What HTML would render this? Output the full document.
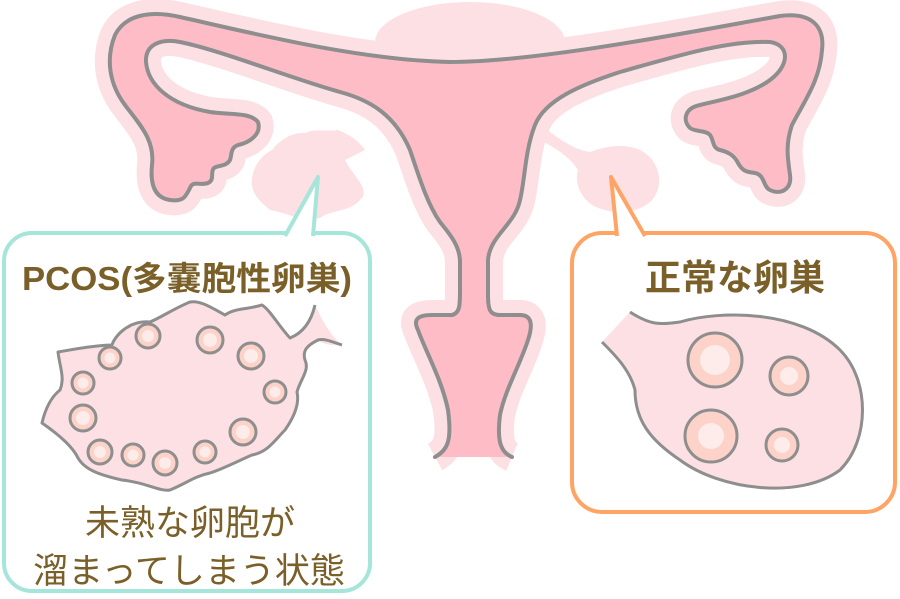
<!DOCTYPE html>
<html><head><meta charset="utf-8"><style>
html,body{margin:0;padding:0;background:#fff;}
svg{display:block;}
text{font-family:"Liberation Sans","Noto Sans CJK JP",sans-serif;fill:#7a5f28;}
</style></head><body>
<svg width="900" height="599" viewBox="0 0 900 599" xmlns="http://www.w3.org/2000/svg">
<ellipse cx="470" cy="42" rx="95" ry="40" fill="#fde0e4"/>
<path d="M435,457 C448,450 452,440 448,410 C442,380 425,350 418,330 C412,318 420,315 432,315 L452,315 C460,313 460,305 460,290 L460,262 C460,245 448,232 440,222 C428,205 420,180 410,150 C395,115 370,100 340,92 C290,78 220,50 180,42 C160,38 145,45 146,62 C148,85 170,105 210,112 C230,115 250,112 258,122 C262,135 248,143 238,145 C230,148 232,155 230,160 C226,167 218,165 214,168 C210,172 215,180 208,183 C200,186 193,180 190,188 C186,195 185,202 170,200 C155,198 150,185 152,165 C155,140 140,125 125,105 C110,85 105,60 115,35 C125,15 150,10 180,17 C260,35 360,60 450,62 C540,62 700,30 780,16 C810,12 825,25 822,50 C820,80 805,100 792,125 C785,145 788,160 790,175 C792,190 780,195 770,190 C763,187 765,175 755,173 C745,172 742,170 738,163 C734,155 728,152 720,150 C712,148 714,140 710,135 C706,130 695,132 690,128 C682,120 685,108 700,105 C720,100 750,95 770,80 C790,65 790,45 770,42 C730,40 680,55 620,72 C580,85 545,100 535,125 C525,150 525,180 520,200 C515,225 490,235 488,260 L488,295 C488,310 490,315 500,315 L520,315 C532,315 533,325 528,340 C520,365 505,390 500,415 C497,440 500,452 512,457" fill="#fde0e4" stroke="#fde0e4" stroke-width="30" stroke-linejoin="round"/>
<path d="M365,150 L345,160 C352,175 372,190 360,200 C350,212 330,210 320,218 C300,222 285,212 270,210 C258,200 250,192 252,178 C254,165 262,155 272,150 C280,140 292,132 305,133 C315,128 325,132 338,130 C350,135 358,140 365,150 Z" fill="#fde0e4"/>
<path d="M545,128 C560,140 575,150 590,152 C605,146 625,143 640,150 C660,160 665,185 652,200 C638,215 610,215 592,205 C578,195 575,180 578,170 C572,160 560,150 540,140 Z" fill="#fde0e4"/>
<path d="M435,457 C448,450 452,440 448,410 C442,380 425,350 418,330 C412,318 420,315 432,315 L452,315 C460,313 460,305 460,290 L460,262 C460,245 448,232 440,222 C428,205 420,180 410,150 C395,115 370,100 340,92 C290,78 220,50 180,42 C160,38 145,45 146,62 C148,85 170,105 210,112 C230,115 250,112 258,122 C262,135 248,143 238,145 C230,148 232,155 230,160 C226,167 218,165 214,168 C210,172 215,180 208,183 C200,186 193,180 190,188 C186,195 185,202 170,200 C155,198 150,185 152,165 C155,140 140,125 125,105 C110,85 105,60 115,35 C125,15 150,10 180,17 C260,35 360,60 450,62 C540,62 700,30 780,16 C810,12 825,25 822,50 C820,80 805,100 792,125 C785,145 788,160 790,175 C792,190 780,195 770,190 C763,187 765,175 755,173 C745,172 742,170 738,163 C734,155 728,152 720,150 C712,148 714,140 710,135 C706,130 695,132 690,128 C682,120 685,108 700,105 C720,100 750,95 770,80 C790,65 790,45 770,42 C730,40 680,55 620,72 C580,85 545,100 535,125 C525,150 525,180 520,200 C515,225 490,235 488,260 L488,295 C488,310 490,315 500,315 L520,315 C532,315 533,325 528,340 C520,365 505,390 500,415 C497,440 500,452 512,457" fill="#fdbcc6" stroke="#8e8e8e" stroke-width="4" stroke-linejoin="round" stroke-linecap="round"/>
<rect x="4" y="233" width="366" height="358" rx="28" fill="#fff" stroke="#a5e5da" stroke-width="4"/>
<path d="M285,236 L318,177 L313,236" fill="#fff" stroke="#a5e5da" stroke-width="4" stroke-linejoin="round"/>
<rect x="572" y="233" width="323" height="279" rx="30" fill="#fff" stroke="#ffa465" stroke-width="4"/>
<path d="M617,236 L611,177 L645,236" fill="#fff" stroke="#ffa465" stroke-width="4" stroke-linejoin="round"/>
<text x="22" y="290" font-size="33" font-weight="bold" textLength="330" lengthAdjust="spacingAndGlyphs">PCOS(多嚢胞性卵巣)</text>
<text x="735" y="290" font-size="36" font-weight="bold" text-anchor="middle">正常な卵巣</text>
<text x="190" y="535" font-size="35" text-anchor="middle">未熟な卵胞が</text>
<text x="189" y="583" font-size="35" text-anchor="middle">溜まってしまう状態</text>
<path d="M342,345 C330,335 322,320 315,305 C312,318 305,332 290,338 C278,325 270,310 262,305 C245,310 235,308 225,315 C212,308 200,300 190,302 C175,308 160,318 150,322 C130,320 115,335 112,345 C95,345 70,350 58,352 C60,368 65,378 60,390 C50,398 45,410 42,423 C55,432 72,445 78,458 C85,470 100,475 122,480 C145,482 160,492 170,490 C185,484 195,476 210,473 C225,468 240,460 252,455 C268,452 275,440 285,430 C292,420 300,405 297,392 C300,380 310,370 305,360 C302,350 308,345 318,340 C322,344 332,346 342,345" fill="#fde0e4"/>
<path d="M315,305 C312,318 305,332 290,338 C278,325 270,310 262,305 C245,310 235,308 225,315 C212,308 200,300 190,302 C175,308 160,318 150,322 C130,320 115,335 112,345 C95,345 70,350 58,352 C60,368 65,378 60,390 C50,398 45,410 42,423 C55,432 72,445 78,458 C85,470 100,475 122,480 C145,482 160,492 170,490 C185,484 195,476 210,473 C225,468 240,460 252,455 C268,452 275,440 285,430 C292,420 300,405 297,392 C300,380 310,370 305,360 C302,350 308,345 318,340 C325,338 335,343 342,345" fill="none" stroke="#8e8e8e" stroke-width="3" stroke-linejoin="round"/>
<g stroke="#8e8e8e" stroke-width="3" fill="#fdd2c8">
<circle cx="148" cy="336" r="12"/><circle cx="110" cy="358" r="11"/><circle cx="83" cy="383" r="11"/><circle cx="83" cy="418" r="13"/><circle cx="100" cy="452" r="12"/><circle cx="133" cy="455" r="11"/><circle cx="165" cy="463" r="12"/><circle cx="205" cy="452" r="11"/><circle cx="243" cy="432" r="13"/><circle cx="275" cy="392" r="11"/><circle cx="251" cy="356" r="13"/><circle cx="210" cy="340" r="13"/>
</g>
<g fill="#fdecea">
<circle cx="148" cy="336" r="6"/><circle cx="110" cy="358" r="5.5"/><circle cx="83" cy="383" r="5.5"/><circle cx="83" cy="418" r="7"/><circle cx="100" cy="452" r="6"/><circle cx="133" cy="455" r="5.5"/><circle cx="165" cy="463" r="6"/><circle cx="205" cy="452" r="5.5"/><circle cx="243" cy="432" r="7"/><circle cx="275" cy="392" r="5.5"/><circle cx="251" cy="356" r="7"/><circle cx="210" cy="340" r="7"/>
</g>
<path d="M602,342 C615,355 630,370 635,390 C635,420 650,440 680,460 C720,490 800,500 840,470 C870,440 870,380 840,350 C800,310 720,310 680,322 C660,325 650,325 630,312 Z" fill="#fde0e4"/>
<path d="M630,312 C650,325 660,325 680,322 C720,310 800,310 840,350 C870,380 870,440 840,470 C800,500 720,490 680,460 C650,440 635,420 635,390 C630,370 615,355 602,342" fill="none" stroke="#8e8e8e" stroke-width="3"/>
<g stroke="#8e8e8e" stroke-width="3" fill="#fdd2c8">
<circle cx="715" cy="360" r="27"/><circle cx="789" cy="376" r="19"/><circle cx="711" cy="436" r="26"/><circle cx="782" cy="445" r="16"/>
</g>
<g fill="#fdecea">
<circle cx="715" cy="360" r="15"/><circle cx="789" cy="376" r="9"/><circle cx="711" cy="436" r="13"/><circle cx="782" cy="445" r="8"/>
</g>
</svg>
</body></html>
